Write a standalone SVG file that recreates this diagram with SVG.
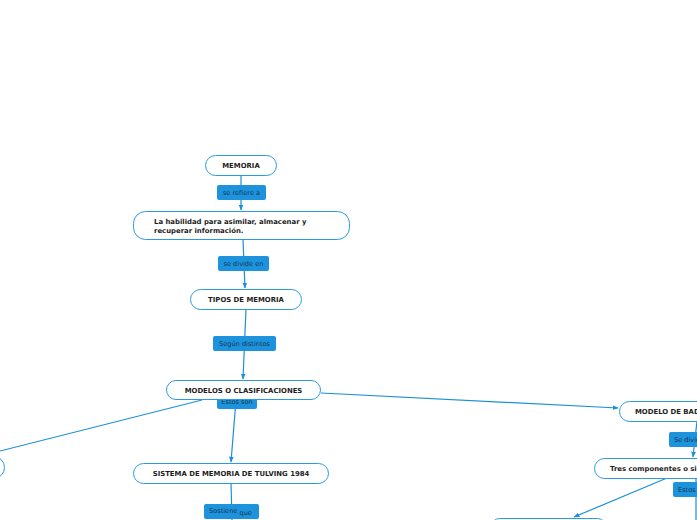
<svg xmlns="http://www.w3.org/2000/svg" width="697" height="520" viewBox="0 0 697 520">
<style>
.node rect{fill:#fff;stroke:#2b9be0;stroke-width:1}
.nt{font-family:"DejaVu Sans",Verdana,sans-serif;font-weight:bold;font-size:6.9px;fill:#1c1c1c}
.lb rect{fill:#1e93dd;stroke:none}
.lt{font-family:"DejaVu Sans",Verdana,sans-serif;font-size:6.6px;fill:#15354f}
.cn path{fill:none;stroke:#1c8fd9;stroke-width:1.2}
</style>
<defs>
<marker id="ah" viewBox="0 0 10 10" refX="9" refY="5" markerWidth="6" markerHeight="6" orient="auto" markerUnits="userSpaceOnUse">
<path d="M0,1 L10,5 L0,9 Z" fill="#1c8fd9"/>
</marker>
</defs>
<rect width="697" height="520" fill="#fff"/>
<g id="connectors" class="cn">
<path d="M241,175 L241,210" marker-end="url(#ah)"/>
<path d="M243,240 L245,288" marker-end="url(#ah)"/>
<path d="M246,309 L243,379" marker-end="url(#ah)"/>
<path d="M236,400 L231,462" marker-end="url(#ah)"/>
<path d="M202,400 L0,451"/>
<path d="M231,483 L232,520"/>
<path d="M321,393 L618,408" marker-end="url(#ah)"/>
<path d="M697,421 L693,457" marker-end="url(#ah)"/>
<path d="M667,478 L574,517" marker-end="url(#ah)"/>
<path d="M696,478 L696,520"/>
</g>
<g id="lbl-refiere" class="lb"><rect x="217" y="185" width="49" height="15" rx="2"/><text class="lt" x="241.5" y="194.5" text-anchor="middle">se refiere a</text></g>
<g id="lbl-divide" class="lb"><rect x="218" y="256" width="51" height="15" rx="2"/><text class="lt" x="243.5" y="265.5" text-anchor="middle">se divide en</text></g>
<g id="lbl-segun" class="lb"><rect x="213" y="336" width="63" height="15" rx="2"/><text class="lt" x="244.5" y="345.5" text-anchor="middle">Según distintos</text></g>
<g id="lbl-estos" class="lb"><rect x="217" y="395" width="40" height="14" rx="2"/><text class="lt" x="237" y="403.5" text-anchor="middle">Estos son</text></g>
<g id="lbl-sostiene" class="lb"><rect x="204" y="504" width="55" height="15" rx="2"/><text class="lt" x="209" y="513">Sostiene <tspan dy="1.5">que</tspan></text></g>
<g id="lbl-sedivide" class="lb"><rect x="669" y="432" width="40" height="15" rx="2"/><text class="lt" x="674" y="441.5">Se divide</text></g>
<g id="lbl-estos2" class="lb"><rect x="673" y="482" width="40" height="15" rx="2"/><text class="lt" x="678" y="491.5">Estos</text></g>
<g id="n-memoria" class="node"><rect x="205.5" y="155.5" width="71" height="20" rx="10"/><text class="nt" x="241" y="167.5" text-anchor="middle">MEMORIA</text></g>
<g id="n-habilidad" class="node"><rect x="133.5" y="211.5" width="216" height="28" rx="12"/><text class="nt" x="154" y="223.5">La habilidad para asimilar, almacenar y</text><text class="nt" x="154" y="233">recuperar información.</text></g>
<g id="n-tipos" class="node"><rect x="190.5" y="289.5" width="111" height="20" rx="10"/><text class="nt" x="246" y="301.5" text-anchor="middle">TIPOS DE MEMORIA</text></g>
<g id="n-modelos" class="node"><rect x="166.5" y="380.5" width="154" height="19" rx="9.5"/><text class="nt" x="243.5" y="392.5" text-anchor="middle">MODELOS O CLASIFICACIONES</text></g>
<g id="n-left" class="node"><rect x="-120" y="456.5" width="124.5" height="22" rx="11"/></g>
<g id="n-tulving" class="node"><rect x="133.5" y="463.5" width="195" height="20" rx="10"/><text class="nt" x="231" y="475.5" text-anchor="middle">SISTEMA DE MEMORIA DE TULVING 1984</text></g>
<g id="n-baddeley" class="node"><rect x="619.5" y="401.5" width="130" height="20" rx="10"/><text class="nt" x="635" y="413.5">MODELO DE BADDELEY</text></g>
<g id="n-tres" class="node"><rect x="594.5" y="458.5" width="160" height="20" rx="10"/><text class="nt" x="610" y="470.5">Tres componentes o sistemas</text></g>
<g id="n-bottom" class="node"><rect x="491.5" y="518.5" width="114" height="20" rx="8"/></g>
</svg>
